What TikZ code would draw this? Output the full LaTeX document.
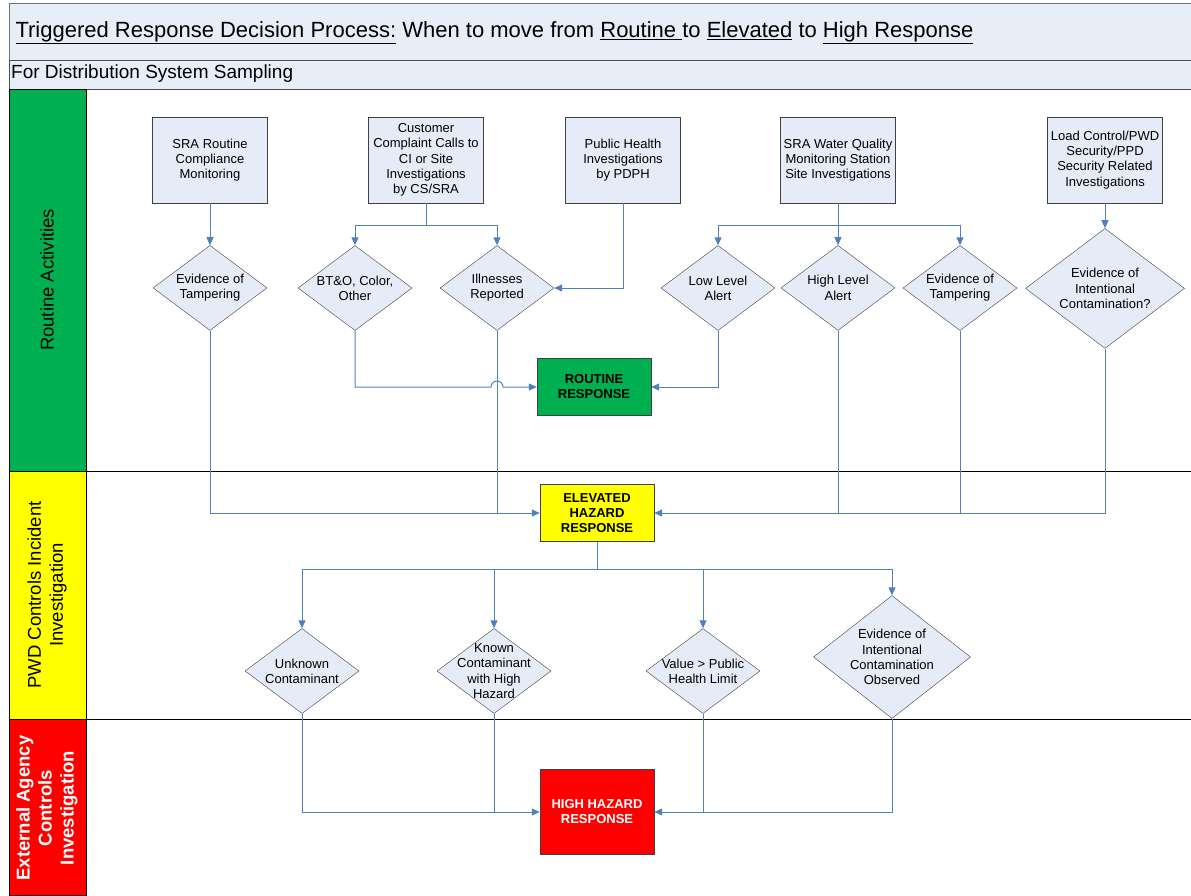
\documentclass[tikz,border=0pt]{standalone}
\usepackage{fontspec}
\setmainfont{Liberation Sans}
\usetikzlibrary{arrows.meta,positioning,shapes.geometric,calc}
\definecolor{hdrfill}{HTML}{E8EEF7}
\definecolor{boxfill}{HTML}{E6ECF7}
\definecolor{linkblue}{HTML}{4F81BD}
\definecolor{lanegreen}{HTML}{00B050}
\definecolor{laneyellow}{HTML}{FFFF00}
\definecolor{lanered}{HTML}{FF0000}

\begin{document}
\begin{tikzpicture}[
  x=1pt, y=-1pt,
  font=\fontsize{13}{15.2}\selectfont, node distance=42pt,
  procbox/.style={draw=black!75, fill=boxfill, align=center,
               minimum width=115pt, minimum height=86pt, inner sep=1pt},
  dec/.style={draw=black!75, diamond, aspect=1.34, align=center, inner sep=-3pt,
              minimum width=114pt, minimum height=85pt, fill=boxfill},
  resp/.style={draw=black!75, align=center, minimum width=114pt,
               minimum height=57pt, font=\fontsize{13}{15}\selectfont\bfseries},
  lanelbl/.style={rotate=90, align=center, font=\fontsize{18.5}{22}\selectfont},
  link/.style={draw=linkblue, line width=1pt},
  flow/.style={link, -{Triangle[length=8pt,width=7pt]}},
]
\useasboundingbox (0,0) rectangle (1191,895);

% header
\draw[draw=black!55, fill=hdrfill, line width=1pt] (9,3) rectangle (1191,60);
\draw[draw=black!70, fill=hdrfill, line width=1pt] (9,60) rectangle (1191,89);
\node[anchor=west, font=\fontsize{22}{26}\selectfont] (title) at (12,33)
  {\underline{Triggered Response Decision Process:} When to move from
   \underline{Routine }to \underline{Elevated} to \underline{High Response}};
\node[anchor=west, font=\fontsize{19}{22}\selectfont, inner sep=1pt] (subtitle) at (10,74)
  {For Distribution System Sampling};

% lanes
\draw[fill=lanegreen] (9,89) rectangle (86,471);
\draw[fill=laneyellow] (9,471) rectangle (86,719);
\draw[fill=lanered] (9,719) rectangle (86,895);
\draw (86,471) -- (1191,471);
\draw (86,719) -- (1191,719);
\node[lanelbl] (lane1) at (47,280) {Routine Activities};
\node[lanelbl] (lane2) at (47,595) {PWD Controls Incident\\Investigation};
\node[lanelbl, text=white, font=\fontsize{18.5}{22}\selectfont\bfseries] (lane3) at (47,808)
  {External Agency\\Controls\\Investigation};

% sources
\node[procbox] (sra)  at (210,160)  {SRA Routine\\Compliance\\Monitoring};
\node[procbox] (ccc)  at (426,160)  {Customer\\Complaint Calls to\\CI or Site\\Investigations\\by CS/SRA};
\node[procbox] (pdph) at (623,160)  {Public Health\\Investigations\\by PDPH};
\node[procbox] (wqm)  at (838,160)  {SRA Water Quality\\Monitoring Station\\Site Investigations};
\node[procbox] (lcs)  at (1105,160) {Load Control/PWD\\Security/PPD\\Security Related\\Investigations};

% first decisions
\node[dec, below=of sra] (tamp1) {Evidence of\\Tampering};
\node[dec] (bto) at (355,288) {BT\&O, Color,\\Other};
\node[dec] (ill) at (497,288) {Illnesses\\Reported};
\node[dec] (low) at (718,288) {Low Level\\Alert};
\node[dec, below=of wqm] (high) {High Level\\Alert};
\node[dec] (tamp2) at (960,288) {Evidence of\\Tampering};
\node[dec, minimum width=159pt, minimum height=120pt, below=25pt of lcs] (intent)
  {Evidence of\\Intentional\\Contamination?};

% responses
\node[resp, fill=lanegreen] (rout) at (594,387) {ROUTINE\\RESPONSE};
\node[resp, fill=laneyellow] (elev) at (597,513) {ELEVATED\\HAZARD\\RESPONSE};
\node[resp, fill=lanered, text=white, minimum height=85pt] (hhr) at (597,812) {HIGH HAZARD\\RESPONSE};

% second decisions
\node[dec] (unk) at (302,671) {Unknown\\Contaminant};
\node[dec, label={[align=center]center:Known\\Contaminant\\with High\\Hazard}] (known) at (494,671) {};
\node[dec] (val) at (703,671) {Value > Public\\Health Limit};
\node[dec, minimum width=157pt, minimum height=123pt] (obs) at (892,657)
  {Evidence of\\Intentional\\Contamination\\Observed};

% routine lane connectors
\draw[flow] (sra) -- (tamp1);
\coordinate (cccsplit) at ($(ccc.south)+(0,22)$);
\draw[link] (ccc.south) -- (cccsplit);
\foreach \d in {bto, ill}
  \draw[flow] (cccsplit) -| (\d.north);
\draw[flow] (pdph.south) |- (ill.east);
\coordinate (wqmsplit) at ($(wqm.south)+(0,22)$);
\draw[flow] (wqm) -- (high);
\foreach \d in {low, tamp2}
  \draw[flow] (wqmsplit) -| (\d.north);
\draw[flow] (lcs) -- (intent);

\draw[flow] (bto.south) |- ($(ill.south |- rout.west)+(-6,0)$)
  arc[start angle=180, end angle=0, radius=6pt] -- (rout.west);
\draw[flow] (low.south) |- (rout.east);

% to elevated
\draw[flow] (tamp1.south) |- (elev.west);
\draw[link] (ill.south) -- (ill.south |- elev.west);
\draw[flow] (intent.south) |- (elev.east);
\foreach \d in {high, tamp2}
  \draw[link] (\d.south) -- (\d.south |- elev.east);

\coordinate (elevsplit) at ($(elev.south)+(0,28)$);
\draw[link] (elev.south) -- (elevsplit);
\foreach \d in {unk, known, val, obs}
  \draw[flow] (elevsplit) -| (\d.north);

% to high hazard
\draw[flow] (unk.south) |- (hhr.west);
\draw[link] (known.south) -- (known.south |- hhr.west);
\draw[flow] (obs.south) |- (hhr.east);
\draw[link] (val.south) -- (val.south |- hhr.east);

\end{tikzpicture}
\end{document}
